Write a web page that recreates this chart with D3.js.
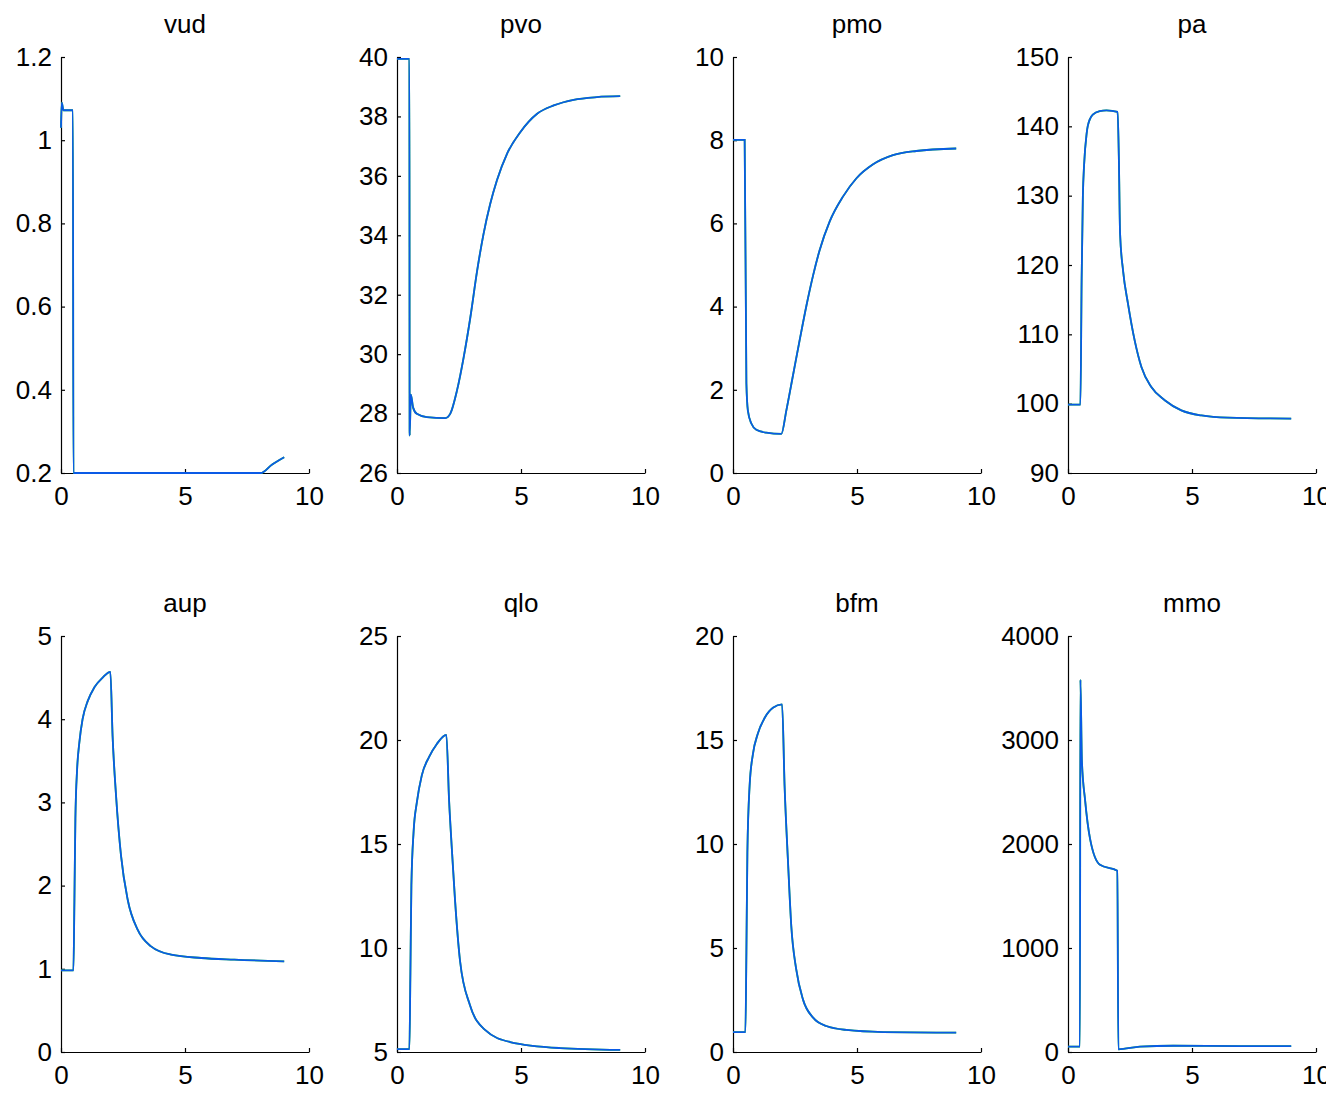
<!DOCTYPE html>
<html>
<head>
<meta charset="utf-8">
<script src="https://cdn.jsdelivr.net/npm/d3@7"></script>
<style>
  html, body { margin: 0; padding: 0; background: #fff; overflow: hidden; }
  svg text { font-family: "Liberation Sans", Arial, Helvetica, sans-serif; fill: #000; }
</style>
</head>
<body>
<div id="chart"></div>
<script>
// =========================
// Data
// =========================
const titles = ["vud", "pvo", "pmo", "pa", "aup", "qlo", "bfm", "mmo"];
const xTicks = [0, 5, 10];

const vudT = [0, 0.03, 0.1, 0.48, 0.5, 2, 5, 8.05, 8.5, 9];
const vudV = [1.03, 1.09, 1.072, 1.072, 0.2, 0.2, 0.2, 0.2, 0.22, 0.238];

const pvoT = [0, 0.5, 0.51, 0.56, 0.65, 0.8, 1.2, 1.95, 2.15, 2.42, 2.69, 2.96, 3.23, 3.49, 3.76, 4.03, 4.44, 4.97, 5.65, 6.32, 7.12, 8.06, 9];
const pvoV = [39.94, 39.94, 27.26, 28.64, 28.2, 27.99, 27.88, 27.85, 28.0, 28.78, 29.9, 31.25, 32.8, 34.05, 35.06, 35.85, 36.75, 37.47, 38.09, 38.37, 38.56, 38.65, 38.68];

const pmoT = [0, 0.47, 0.54, 0.6, 0.74, 0.94, 1.34, 1.95, 2.15, 2.42, 2.69, 2.96, 3.23, 3.49, 3.9, 4.44, 4.97, 5.65, 6.45, 7.39, 9];
const pmoV = [8.01, 8.01, 2.15, 1.5, 1.19, 1.04, 0.97, 0.94, 1.5, 2.35, 3.2, 4.02, 4.75, 5.35, 6.05, 6.65, 7.08, 7.42, 7.64, 7.74, 7.8];

const paT = [0, 0.5, 0.55, 0.6, 0.65, 0.75, 0.8, 1.0, 1.28, 1.55, 2.0, 2.05, 2.1, 2.22, 2.42, 2.69, 2.96, 3.36, 3.9, 4.57, 5.38, 6.45, 9];
const paV = [99.86, 99.86, 118, 130, 134.5, 138.9, 140.1, 141.7, 142.2, 142.3, 142.07, 135.6, 124.5, 119.2, 114.4, 109.1, 105.3, 102.4, 100.5, 99.04, 98.3, 97.98, 97.84];

const aupT = [0, 0.5, 0.54, 0.58, 0.65, 0.74, 0.87, 1.08, 1.34, 1.68, 1.99, 2.08, 2.22, 2.42, 2.69, 3.09, 3.63, 4.44, 5.65, 6.99, 9];
const aupV = [0.98, 0.98, 1.8, 2.8, 3.4, 3.72, 4.0, 4.22, 4.38, 4.5, 4.57, 3.8, 3.08, 2.36, 1.83, 1.47, 1.27, 1.17, 1.13, 1.11, 1.09];

const qloT = [0, 0.5, 0.54, 0.58, 0.67, 0.8, 1.0, 1.3, 1.6, 1.99, 2.1, 2.22, 2.34, 2.54, 2.94, 3.55, 4.56, 6.57, 9];
const qloV = [5.14, 5.14, 8.8, 13.0, 15.6, 17.0, 18.3, 19.2, 19.8, 20.25, 17.1, 14.6, 12.3, 9.4, 7.26, 6.06, 5.48, 5.19, 5.1];

const bfmT = [0, 0.5, 0.54, 0.58, 0.67, 0.8, 1.0, 1.28, 1.61, 1.98, 2.08, 2.22, 2.35, 2.55, 2.82, 3.23, 3.76, 4.57, 6.05, 9];
const bfmV = [0.96, 0.96, 4.78, 9.6, 12.8, 14.3, 15.3, 16.07, 16.55, 16.71, 12.8, 9.1, 6.06, 3.97, 2.53, 1.65, 1.25, 1.06, 0.96, 0.93];

const mmoT = [0, 0.48, 0.5, 0.56, 0.69, 0.89, 1.29, 1.99, 2.03, 2.9, 4.24, 6.9, 9];
const mmoV = [51, 51, 3580, 2800, 2420, 2050, 1800, 1743, 26, 51, 60, 57, 57];

const yDomains = [[0.2, 1.2], [26, 40], [0, 10], [90, 150], [0, 5], [5, 25], [0, 20], [0, 4000]];
const yTicks = [
    [0.2, 0.4, 0.6, 0.8, 1, 1.2],
    [26, 28, 30, 32, 34, 36, 38, 40],
    [0, 2, 4, 6, 8, 10],
    [90, 100, 110, 120, 130, 140, 150],
    [0, 1, 2, 3, 4, 5],
    [5, 10, 15, 20, 25],
    [0, 5, 10, 15, 20],
    [0, 1000, 2000, 3000, 4000]
];
const seriesT = [vudT, pvoT, pmoT, paT, aupT, qloT, bfmT, mmoT];
const seriesV = [vudV, pvoV, pmoV, paV, aupV, qloV, bfmV, mmoV];

// =========================
// Layout
// =========================
const width = 1326, height = 1098;
const colX = [61, 397, 733, 1068];
const rowY = [57, 636];
const pw = 248, ph = 416;
const fontSize = 26;

const svg = d3.select("#chart").append("svg")
    .attr("width", width)
    .attr("height", height);

titles.forEach((name, i) => {
    const col = i % 4, row = Math.floor(i / 4);
    const g = svg.append("g")
        .attr("transform", `translate(${colX[col]},${rowY[row]})`);

    const x = d3.scaleLinear().domain([0, 10]).range([0, pw]);
    const y = d3.scaleLinear().domain(yDomains[i]).range([ph, 0]);

    // axes (MATLAB style: box off, inward ticks)
    const xAxis = d3.axisBottom(x).tickValues(xTicks)
        .tickSizeInner(-4).tickSizeOuter(0).tickPadding(14)
        .tickFormat(d3.format("d"));
    const yAxis = d3.axisLeft(y).tickValues(yTicks[i])
        .tickSizeInner(-4).tickSizeOuter(0).tickPadding(9)
        .tickFormat(d => String(d));

    const gx = g.append("g").attr("transform", `translate(0,${ph})`).call(xAxis);
    const gy = g.append("g").call(yAxis);
    [gx, gy].forEach(a => {
        a.select(".domain").attr("stroke", "#000").attr("stroke-width", 1.2);
        a.selectAll(".tick line").attr("stroke", "#000").attr("stroke-width", 1.2);
        a.selectAll("text").attr("font-size", fontSize).attr("fill", "#000")
            .attr("font-family", "'Liberation Sans', Arial, sans-serif");
    });

    // title
    g.append("text")
        .attr("x", pw / 2)
        .attr("y", -24)
        .attr("text-anchor", "middle")
        .attr("font-size", fontSize)
        .text(name);

    const pts = seriesT[i].map((t, k) => ({ t: t, v: seriesV[i][k] }));
    const line = d3.line()
        .x(d => x(d.t))
        .y(d => y(d.v))
        .curve(d3.curveMonotoneX);

    // green trace underneath, blue on top
    g.append("path")
        .datum(pts)
        .attr("d", line)
        .attr("fill", "none")
        .attr("stroke", "#2bd12b")
        .attr("stroke-width", 1.8);

    g.append("path")
        .datum(pts)
        .attr("d", line)
        .attr("fill", "none")
        .attr("stroke", "#0a5ae6")
        .attr("stroke-width", 1.8);
});
</script>
</body>
</html>
